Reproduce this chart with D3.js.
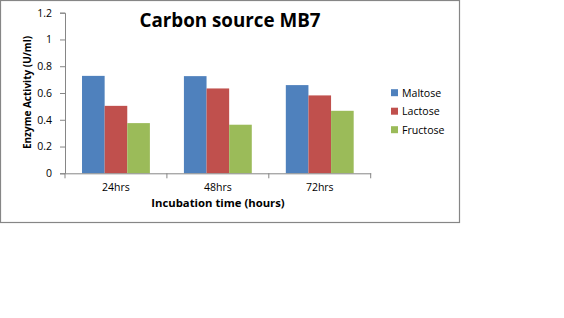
<!DOCTYPE html>
<html><head><meta charset="utf-8">
<script src="https://cdn.jsdelivr.net/npm/d3@7"></script>
<style>html,body{margin:0;padding:0;background:#fff;}svg{display:block;}</style>
</head><body>
<svg id="c" width="564" height="318"></svg>
<script>
const categories = ["24hrs", "48hrs", "72hrs"];
const seriesNames = ["Maltose", "Lactose", "Fructose"];
const maltose = [0.728, 0.726, 0.659];
const lactose = [0.504, 0.634, 0.582];
const fructose = [0.375, 0.363, 0.467];
const yTicks = [0, 0.2, 0.4, 0.6, 0.8, 1, 1.2];
const colors = ["#4F81BD", "#C0504D", "#9BBB59"];
const seriesValues = [maltose, lactose, fructose];

const svg = d3.select("#c");
const font = "'Open Sans', sans-serif";

svg.append("rect").attr("x", 0.5).attr("y", 0.5).attr("width", 459).attr("height", 222)
  .attr("fill", "#fff").attr("stroke", "#868686").attr("stroke-width", 1.2);

const x0 = d3.scaleBand().domain(categories).range([65, 370.7]).paddingInner(0.334).paddingOuter(0.167);
const x1 = d3.scaleBand().domain(seriesNames).range([0, x0.bandwidth()]);
const y = d3.scaleLinear().domain([0, 1.2]).range([173.3, 12.7]);

// bars
categories.forEach((c, ci) => {
  seriesNames.forEach((s, si) => {
    svg.append("rect")
      .attr("x", x0(c) + x1(s))
      .attr("y", y(seriesValues[si][ci]))
      .attr("width", x1.bandwidth())
      .attr("height", y(0) - y(seriesValues[si][ci]))
      .attr("fill", colors[si]);
  });
});

// y axis
const yAxis = svg.append("g").attr("transform", "translate(65,0)")
  .call(d3.axisLeft(y).tickValues(yTicks).tickSize(5).tickPadding(8).tickFormat(d => d3.format("")(d)));
yAxis.select(".domain").attr("stroke", "#868686");
yAxis.selectAll(".tick line").attr("stroke", "#868686");
yAxis.selectAll("text").attr("font-family", font).attr("font-size", 10.5).attr("fill", "#000");

// x axis
const xAxis = svg.append("g").attr("transform", `translate(0,${y(0)})`)
  .call(d3.axisBottom(x0).tickSize(0).tickPadding(10));
xAxis.select(".domain").attr("stroke", "#868686");
xAxis.selectAll("text").attr("font-family", font).attr("font-size", 10.5).attr("fill", "#000");
// tick marks at category boundaries
const bounds = [65].concat(categories.map(c => x0(c) + x0.bandwidth() + x0.step() * x0.paddingInner() / 2));
bounds[bounds.length - 1] = 370.7;
svg.append("g").selectAll("line").data(bounds).join("line")
  .attr("x1", d => d).attr("x2", d => d).attr("y1", y(0)).attr("y2", y(0) + 5)
  .attr("stroke", "#868686");

// title
svg.append("text").attr("x", 230).attr("y", 26.5).attr("text-anchor", "middle")
  .attr("font-family", font).attr("font-weight", "bold").attr("font-size", 18.8)
  .text("Carbon source MB7");

// axis titles
svg.append("text").attr("x", 218).attr("y", 207).attr("text-anchor", "middle")
  .attr("font-family", font).attr("font-weight", "bold").attr("font-size", 11.3)
  .text("Incubation time (hours)");
svg.append("text").attr("transform", "translate(30.5,92.5) rotate(-90)").attr("text-anchor", "middle")
  .attr("font-family", font).attr("font-weight", "bold").attr("font-size", 10)
  .text("Enzyme Activity (U/ml)");

// legend
const lg = svg.append("g");
seriesNames.forEach((s, i) => {
  const cy = 92.7 + i * 18.5;
  lg.append("rect").attr("x", 391).attr("y", cy - 3.5).attr("width", 7).attr("height", 7).attr("fill", colors[i]);
  lg.append("text").attr("x", 402).attr("y", cy + 4).attr("font-family", font).attr("font-size", 10.6).text(s);
});
</script>
</body></html>
